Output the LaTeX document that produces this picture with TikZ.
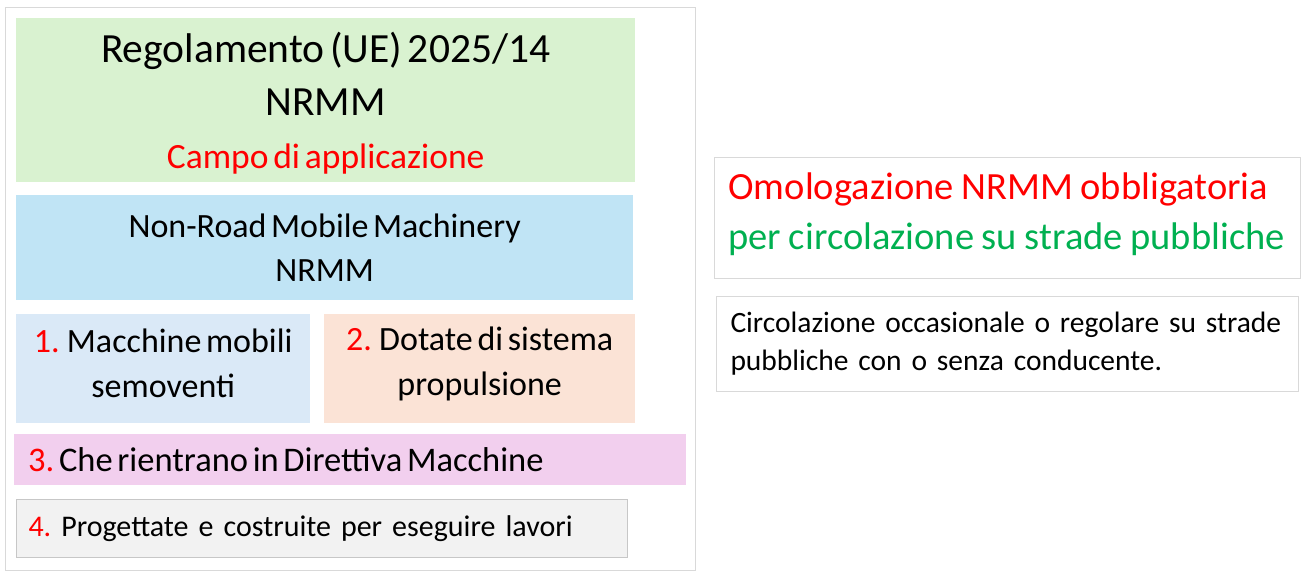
\documentclass[tikz,border=0pt]{standalone}
\usepackage{fontspec}
\setmainfont{Carlito}[WordSpace=0.6]
\usepackage{tikz}
\usetikzlibrary{positioning}

\definecolor{regogreen}{HTML}{D9F2D0}
\definecolor{nrmmblue}{HTML}{C0E4F5}
\definecolor{mobblue}{HTML}{DAE9F7}
\definecolor{propeach}{HTML}{FBE3D6}
\definecolor{dirpink}{HTML}{F2CFEE}
\definecolor{lavgray}{HTML}{F2F2F2}
\definecolor{edgegray}{HTML}{D9D9D9}
\definecolor{numred}{HTML}{FF0000}
\definecolor{roadgreen}{HTML}{00B050}

\tikzset{
    panel/.style={rectangle, anchor=north west, inner sep=0pt, align=center},
    leftpanel/.style={panel, align=left},
    tightspace/.style={execute at begin node={\spaceskip=#1em\relax\xspaceskip=#1em\relax}},
}

\begin{document}
\begin{tikzpicture}[x=1pt, y=-1pt]
    \useasboundingbox (0,0) rectangle (1307,575);

    % Frame round the left column
    \node [panel, draw=edgegray, line width=1pt, minimum width=690pt, minimum height=563pt] (frame) at (5,7) {};

    % Left column
    \node [panel, fill=regogreen, minimum width=619pt, minimum height=164pt,
           font=\fontsize{41.5}{53}\selectfont] (rego) at (16,18)
        {\rule{0pt}{37pt}Regolamento (UE) 2025/14\\ NRMM\\ {\color{numred}\fontsize{35.5}{53}\selectfont Campo di applicazione}};
    \node [panel, fill=nrmmblue, minimum width=617pt, minimum height=105pt,
           font=\fontsize{34}{44}\selectfont] (nrmm) at (16,195)
        {Non-Road Mobile Machinery\\ NRMM};
    \node [panel, fill=mobblue, minimum width=294pt, minimum height=109pt,
           font=\fontsize{34}{45}\selectfont] (mobili) at (16,314)
        {\textcolor{numred}{1.} Macchine mobili\\ semoventi\rule[-12pt]{0pt}{12pt}};
    \node [panel, fill=propeach, minimum width=311pt, minimum height=109pt,
           font=\fontsize{34}{45}\selectfont] (propuls) at (324,314)
        {\textcolor{numred}{2.} Dotate di sistema\\ propulsione\rule[-15pt]{0pt}{15pt}};
    \node [leftpanel, tightspace=0.136, fill=dirpink, text width=644pt, inner xsep=14pt, minimum height=51pt,
           font=\fontsize{34.5}{40}\selectfont] (direttiva) at (14,434)
        {\mbox{\textcolor{numred}{3.} Che rientrano in Direttiva Macchine}};
    \node [leftpanel, tightspace=0.3333, fill=lavgray, draw=edgegray!80!gray, line width=1pt, text width=587pt,
           inner xsep=12pt, minimum height=58pt, font=\fontsize{30}{38}\selectfont] (lavori) at (16,499)
        {\mbox{\textcolor{numred}{4.} Progettate e costruite per eseguire lavori}\rule[-4pt]{0pt}{4pt}};

    % Right column
    \node [leftpanel, tightspace=0.2, draw=edgegray, line width=1pt, text width=558pt, inner xsep=14pt,
           minimum height=121pt, font=\fontsize{38.5}{50}\selectfont] (omolog) at (714,157)
        {\mbox{\textcolor{numred}{Omologazione NRMM obbligatoria}}\\
         \mbox{\textcolor{roadgreen}{per circolazione su strade pubbliche}}\rule[-14pt]{0pt}{14pt}};
    \node [leftpanel, tightspace=0.3333, draw=edgegray, line width=1pt, text width=554pt, inner xsep=14pt,
           minimum height=95pt, font=\fontsize{29.5}{38}\selectfont] (circol) at (716,296)
        {\mbox{Circolazione occasionale o regolare su strade}\\
         \mbox{pubbliche con o senza conducente.}};
\end{tikzpicture}
\end{document}
